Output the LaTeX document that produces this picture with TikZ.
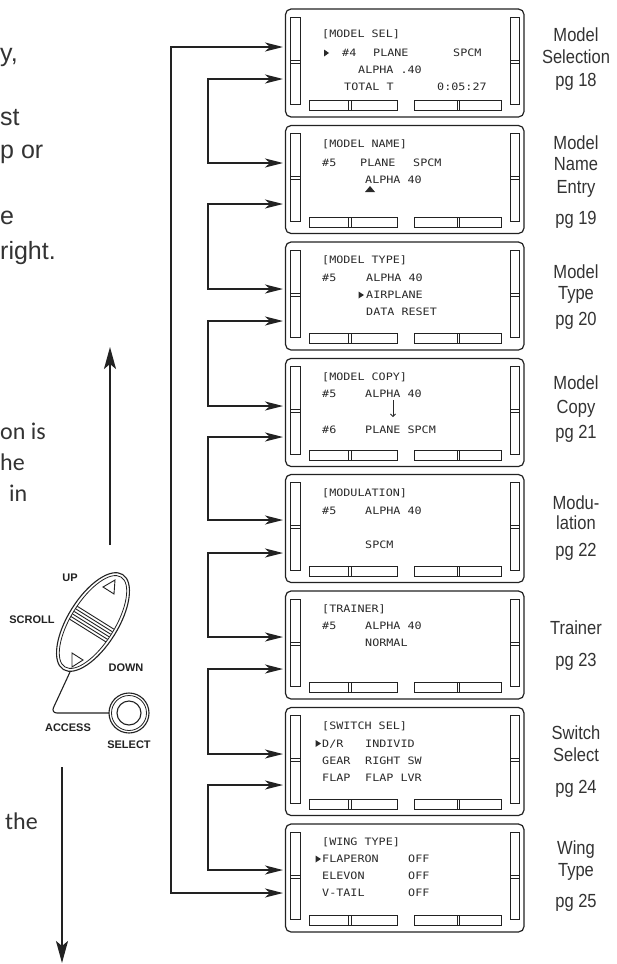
\documentclass[tikz,border=0pt]{standalone}
\usepackage{fontspec}
\setmainfont{Liberation Sans}
\newfontfamily\lcdfont{DejaVu Sans Mono}
\newfontfamily\calfont{Carlito}
\usetikzlibrary{arrows.meta,calc}
\definecolor{ink}{HTML}{222222}
\definecolor{lcdink}{HTML}{2A2A2A}
\definecolor{txt}{HTML}{333333}
\newcommand\lcdscreen[2]{%
  \node[screenbox] (#1) at (285.5,#2) {};
  \draw[bar] (290.5,#2+8) rectangle (300.5,#2+95.5)
    (290.5,#2+51) -- (300.5,#2+51) (290.5,#2+54) -- (300.5,#2+54);
  \draw[bar] (510,#2+8) rectangle (519.5,#2+95.5)
    (510,#2+51) -- (519.5,#2+51) (510,#2+54) -- (519.5,#2+54);
  \draw[bar] (309.5,#2+91.5) rectangle (397,#2+101.5)
    (348.5,#2+91.5) -- (348.5,#2+101.5) (351.5,#2+91.5) -- (351.5,#2+101.5);
  \draw[bar] (414,#2+91.5) rectangle (501,#2+101.5)
    (457,#2+91.5) -- (457,#2+101.5) (459.5,#2+91.5) -- (459.5,#2+101.5);
}
\begin{document}
\begin{tikzpicture}[x=1pt,y=-1pt,
  conn/.style={draw=ink, line width=1.8pt, >={Stealth[length=18pt,width=9pt,inset=5pt]}, <->},
  bigarr/.style={draw=ink, line width=2pt, >={Stealth[length=22pt,width=12pt,inset=5pt]}, ->},
  screenbox/.style={draw=ink, line width=1.2pt, rounded corners=5.5pt, minimum width=238.5pt, minimum height=108pt, inner sep=0pt, outer sep=0pt, anchor=north west},
  bar/.style={draw=ink, line width=0.9pt},
  lcd/.style={font=\lcdfont\fontsize{10.2}{11}\selectfont, text=lcdink, inner sep=0pt, anchor=west, xscale=1.15, text height=7.4pt, text depth=0pt},
  lab/.style={font=\fontsize{19}{21}\selectfont, text=txt, xscale=0.87, inner sep=0pt, text height=13.6pt, text depth=0pt, anchor=center},
  side/.style={font=\fontsize{25}{30}\selectfont, text=txt, inner sep=0pt, anchor=base west},
  sidec/.style={font=\calfont\fontsize{24}{30}\selectfont, text=txt, inner sep=0pt, anchor=base west},
  dev/.style={draw=ink, line width=1.1pt},
  devlab/.style={font=\bfseries\fontsize{11}{12}\selectfont, text=ink, inner sep=0pt, anchor=center},
]
\useasboundingbox (0,0) rectangle (616,964);
\fill[white] (0,0) rectangle (616,964);

% ---------- screens ----------
\lcdscreen{s1}{9}
\node[lcd] (s1t0) at (322,34) {[MODEL SEL]};
\fill[lcdink] (324,49.5) -- (329,53) -- (324,56.5) -- cycle;
\node[lcd] (s1t1) at (342,53) {\#4};
\node[lcd] (s1t2) at (373,53) {PLANE};
\node[lcd] (s1t3) at (453,53) {SPCM};
\node[lcd] (s1t4) at (358,70) {ALPHA .40};
\node[lcd] (s1t5) at (344,87) {TOTAL T};
\node[lcd] (s1t6) at (437,87) {0:05:27};

\lcdscreen{s2}{125.5}
\node[lcd] (s2t0) at (322,143.5) {[MODEL NAME]};
\node[lcd] (s2t1) at (322,162.5) {\#5};
\node[lcd] (s2t2) at (360,162.5) {PLANE};
\node[lcd] (s2t3) at (413,162.5) {SPCM};
\node[lcd] (s2t4) at (365,179.5) {ALPHA 40};
\fill[lcdink] (365,192) -- (370,186) -- (375,192) -- cycle;

\lcdscreen{s3}{242}
\node[lcd] (s3t0) at (322,260) {[MODEL TYPE]};
\node[lcd] (s3t1) at (322,278) {\#5};
\node[lcd] (s3t2) at (366,278) {ALPHA 40};
\fill[lcdink] (358.5,291.5) -- (364,295) -- (358.5,298.5) -- cycle;
\node[lcd] (s3t3) at (366,295) {AIRPLANE};
\node[lcd] (s3t4) at (366,312) {DATA RESET};

\lcdscreen{s4}{358.5}
\node[lcd] (s4t0) at (322,376.5) {[MODEL COPY]};
\node[lcd] (s4t1) at (322,393.5) {\#5};
\node[lcd] (s4t2) at (365,393.5) {ALPHA 40};
\draw[lcdink, line width=0.8pt, -{Straight Barb[length=2.5pt,width=5pt]}] (393,400) -- (393,417);
\node[lcd] (s4t3) at (322,429.5) {\#6};
\node[lcd] (s4t4) at (365,429.5) {PLANE SPCM};

\lcdscreen{s5}{474.5}
\node[lcd] (s5t0) at (322,492.5) {[MODULATION]};
\node[lcd] (s5t1) at (322,510.5) {\#5};
\node[lcd] (s5t2) at (365,510.5) {ALPHA 40};
\node[lcd] (s5t3) at (365,544.5) {SPCM};

\lcdscreen{s6}{591}
\node[lcd] (s6t0) at (322,608.5) {[TRAINER]};
\node[lcd] (s6t1) at (322,626) {\#5};
\node[lcd] (s6t2) at (365,626) {ALPHA 40};
\node[lcd] (s6t3) at (365,643) {NORMAL};

\lcdscreen{s7}{707.5}
\node[lcd] (s7t0) at (322,725.5) {[SWITCH SEL]};
\fill[lcdink] (315.5,740) -- (321,743.5) -- (315.5,747) -- cycle;
\node[lcd] (s7t1) at (322,743.5) {D/R};
\node[lcd] (s7t2) at (365,743.5) {INDIVID};
\node[lcd] (s7t3) at (322,760.5) {GEAR};
\node[lcd] (s7t4) at (365,760.5) {RIGHT SW};
\node[lcd] (s7t5) at (322,777.5) {FLAP};
\node[lcd] (s7t6) at (365,777.5) {FLAP LVR};

\lcdscreen{s8}{824}
\node[lcd] (s8t0) at (322,842) {[WING TYPE]};
\fill[lcdink] (315.5,855.5) -- (321,859) -- (315.5,862.5) -- cycle;
\node[lcd] (s8t1) at (322,859) {FLAPERON};
\node[lcd] (s8t2) at (408,859) {OFF};
\node[lcd] (s8t3) at (322,876) {ELEVON};
\node[lcd] (s8t4) at (408,876) {OFF};
\node[lcd] (s8t5) at (322,893) {V-TAIL};
\node[lcd] (s8t6) at (408,893) {OFF};

% ---------- right labels ----------
\node[lab] (l1a) at (576,35) {Model};
\node[lab] (l1b) at (576,57) {Selection};
\node[lab] (l1c) at (576,80) {pg 18};
\node[lab] (l2a) at (576,143) {Model};
\node[lab] (l2b) at (576,164) {Name};
\node[lab] (l2c) at (576,187) {Entry};
\node[lab] (l2d) at (576,218) {pg 19};
\node[lab] (l3a) at (576,272) {Model};
\node[lab] (l3b) at (576,293) {Type};
\node[lab] (l3c) at (576,319) {pg 20};
\node[lab] (l4a) at (576,383) {Model};
\node[lab] (l4b) at (576,407) {Copy};
\node[lab] (l4c) at (576,432) {pg 21};
\node[lab] (l5a) at (576,503) {Modu-};
\node[lab] (l5b) at (576,523) {lation};
\node[lab] (l5c) at (576,550) {pg 22};
\node[lab] (l6a) at (576,628) {Trainer};
\node[lab] (l6b) at (576,660) {pg 23};
\node[lab] (l7a) at (576,733) {Switch};
\node[lab] (l7b) at (576,755) {Select};
\node[lab] (l7c) at (576,787) {pg 24};
\node[lab] (l8a) at (576,848) {Wing};
\node[lab] (l8b) at (576,870) {Type};
\node[lab] (l8c) at (576,901) {pg 25};

% ---------- connectors ----------
\coordinate (mx) at (171,0);
\coordinate (ix) at (208,0);
\coordinate (a1u) at (283,47);  \coordinate (a1l) at (283,79);
\coordinate (a2u) at (283,163); \coordinate (a2l) at (283,204);
\coordinate (a3u) at (283,289); \coordinate (a3l) at (283,321);
\coordinate (a4u) at (283,406); \coordinate (a4l) at (283,437);
\coordinate (a5u) at (283,520); \coordinate (a5l) at (283,553);
\coordinate (a6u) at (283,637); \coordinate (a6l) at (283,669);
\coordinate (a7u) at (283,754); \coordinate (a7l) at (283,785);
\coordinate (a8u) at (283,870); \coordinate (a8l) at (283,893);
\draw[conn] (a1u) -- (a1u -| mx) -- (a8l -| mx) -- (a8l);
\foreach \i/\j in {1/2,2/3,3/4,4/5,5/6,6/7,7/8}
  \draw[conn] (a\i l) -- (a\i l -| ix) -- (a\j u -| ix) -- (a\j u);

% ---------- big arrows ----------
\coordinate (upT) at (110,545); \coordinate (upH) at (110,347);
\draw[bigarr] (upT) -- (upH);
\coordinate (dnT) at (62,767); \coordinate (dnH) at (62,963);
\draw[bigarr] (dnT) -- (dnH);

% ---------- left text fragments ----------
\node[side] (f1) at (0,61) {y,};
\node[side] (f2) at (0,125) {st};
\node[side] (f3) at (0,158) {p or};
\node[side] (f4) at (0,224) {e};
\node[side] (f5) at (0,259) {right.};
\node[sidec] (f6) at (0,439) {on is};
\node[sidec] (f7) at (0,470) {he};
\node[sidec] (f8) at (9,501) {in};
\node[sidec] (f9) at (5,829) {the};

% ---------- scroll device ----------
\begin{scope}[shift={(93,622)}, rotate=58]
  \draw[dev] (0,0) ellipse [x radius=56, y radius=25];
  \draw[dev, line width=0.8pt] (0,0) ellipse [x radius=53, y radius=22];
  \foreach \u in {-10,-7,-4,-1,2,5}
    \draw[ink, line width=0.9pt] (\u,-21.5) -- (\u,21.5);
\end{scope}
\draw[dev, line width=0.9pt] (103,587) -- (115,580) -- (114,594) -- cycle;
\draw[dev, line width=0.9pt] (72,653) -- (83,660) -- (72,667) -- cycle;
\draw[dev, rounded corners=6pt] (70,672) -- (51,713) -- (109,713);
\draw[dev] (129,713) circle [radius=20];
\draw[dev, line width=0.8pt] (129,713) circle [radius=17.5];
\draw[dev] (129,713) circle [radius=12];
\node[devlab] (dup) at (70,578) {UP};
\node[devlab] (dscroll) at (32,620) {SCROLL};
\node[devlab] (ddown) at (126,668) {DOWN};
\node[devlab] (daccess) at (68,728) {ACCESS};
\node[devlab] (dselect) at (129,745) {SELECT};
\end{tikzpicture}
\end{document}
